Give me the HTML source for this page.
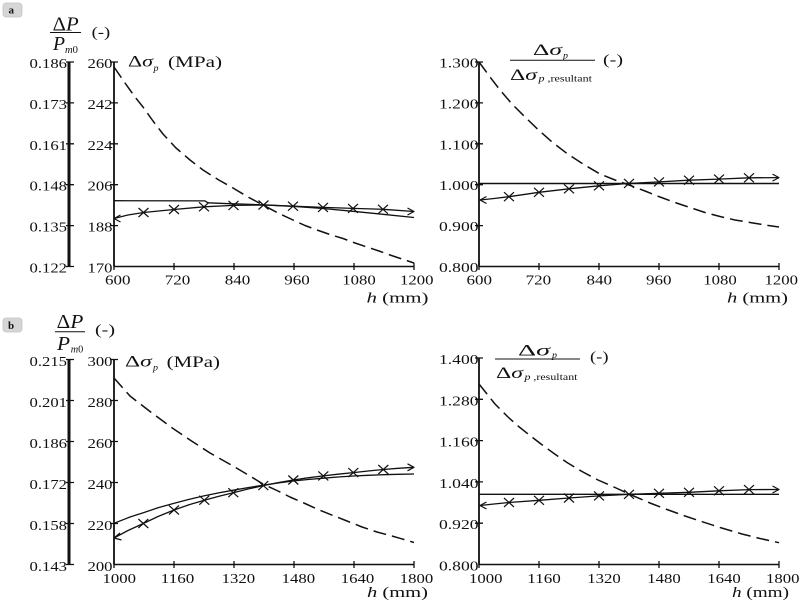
<!DOCTYPE html>
<html><head><meta charset="utf-8"><style>
html,body{margin:0;padding:0;background:#fff;}
svg{display:block;}
text{font-family:"Liberation Serif",serif;fill:#111;}
</style></head><body>
<svg width="800" height="600" viewBox="0 0 800 600" xmlns="http://www.w3.org/2000/svg">
<rect width="800" height="600" fill="#fff"/>

<!-- panel tags -->
<rect x="3" y="3" width="19" height="14" rx="3" fill="#d6d6d6" stroke="#c4c4c4" stroke-width="0.8"/>
<text x="8.5" y="13.5" font-size="11" font-weight="bold">a</text>
<rect x="3" y="318" width="19" height="14" rx="3" fill="#d6d6d6" stroke="#c4c4c4" stroke-width="0.8"/>
<text x="8" y="328.8" font-size="11" font-weight="bold">b</text>

<g stroke="#111" fill="none" stroke-linecap="butt">
<!-- ===== TOP LEFT axes ===== -->
<line x1="69" y1="62" x2="69" y2="266.5" stroke-width="3"/>
<line x1="114" y1="62" x2="114" y2="266.5" stroke-width="1.8"/>
<line x1="114" y1="266.5" x2="414" y2="266.5" stroke-width="1.6"/>
<path stroke-width="1.3" d="M66 62H74M66 102.9H74M66 143.8H74M66 184.7H74M66 225.6H74M66 266.5H74
M110 62H118M110 102.9H118M110 143.8H118M110 184.7H118M110 225.6H118
M114 263V270M174 263V270M234 263V270M294 263V270M354 263V270M414 263V270"/>

<!-- ===== TOP RIGHT axes ===== -->
<line x1="479" y1="62" x2="479" y2="266.5" stroke-width="1.8"/>
<line x1="479" y1="266.5" x2="779" y2="266.5" stroke-width="1.6"/>
<path stroke-width="1.3" d="M475 62H483M475 102.9H483M475 143.8H483M475 184.7H483M475 225.6H483
M479 263V270M539 263V270M599 263V270M659 263V270M719 263V270M779 263V270"/>

<!-- ===== BOTTOM LEFT axes ===== -->
<line x1="69" y1="359.5" x2="69" y2="564.5" stroke-width="3"/>
<line x1="114" y1="359.5" x2="114" y2="564.5" stroke-width="1.8"/>
<line x1="114" y1="564.5" x2="414" y2="564.5" stroke-width="1.6"/>
<path stroke-width="1.3" d="M66 359.5H74M66 400.5H74M66 441.5H74M66 482.5H74M66 523.5H74M66 564.5H74
M110 359.5H118M110 400.5H118M110 441.5H118M110 482.5H118M110 523.5H118
M114 561V568M174 561V568M234 561V568M294 561V568M354 561V568M414 561V568"/>

<!-- ===== BOTTOM RIGHT axes ===== -->
<line x1="479" y1="358" x2="479" y2="564.5" stroke-width="1.8"/>
<line x1="479" y1="564.5" x2="779" y2="564.5" stroke-width="1.6"/>
<path stroke-width="1.3" d="M475 358H483M475 399.3H483M475 440.6H483M475 481.9H483M475 523.2H483
M479 561V568M539 561V568M599 561V568M659 561V568M719 561V568M779 561V568"/>
</g>

<!-- ===== CURVES ===== -->
<g stroke="#111" fill="none" stroke-linejoin="round">
<!-- TL -->
<polyline stroke-width="1.5" stroke-dasharray="13 6" points="114,67 125,83 135,97 143,107 153,121 163,134 176,148 190,160 203,170 218,179.5 233,188 248,197 263,205 278,213 293,220 305,225.5 317,230 330,234.5 343,238.5 355,243 367,247 379,251 390,255 402,259 414,263"/>
<polyline stroke-width="1.3" points="114,200.7 205,200.9 208,202.8 233,203.8 263,204.8 293,206.3 323,208.5 353,211.3 383,214.3 414,217.5"/>
<polyline stroke-width="1.3" points="114,218.5 128,215 143.5,212.5 174,209.5 204,206.8 233.5,205.4 263.5,205 293,206.2 323,207.4 353,208.4 383,209.3 414,211.5"/>
<path stroke-width="1.2" d="M120.5,215 L114,218.5 L120.5,222 M407.5,208 L414,211.5 L407.5,215"/>
<path stroke-width="1.2" d="M138.5,208 l10,9 m-10,0 l10,-9 M169,205 l10,9 m-10,0 l10,-9 M199,202.3 l10,9 m-10,0 l10,-9 M228.5,200.9 l10,9 m-10,0 l10,-9 M258.5,200.5 l10,9 m-10,0 l10,-9 M288,201.7 l10,9 m-10,0 l10,-9 M318,202.9 l10,9 m-10,0 l10,-9 M348,203.9 l10,9 m-10,0 l10,-9 M378,204.8 l10,9 m-10,0 l10,-9"/>

<!-- TR -->
<polyline stroke-width="1.5" stroke-dasharray="13 6" points="479,62 490,77 500,90 512,104 525,117 538,129.5 552,142 567,153.5 583,164 600,174 615,180 629,185 645,191 660,197 675,202.5 690,207.5 705,212.5 720,216.5 735,220 750,222.5 765,225 779,227"/>
<line stroke-width="1.4" x1="479" y1="183.5" x2="779" y2="183.5"/>
<polyline stroke-width="1.3" points="480,200 494,198.5 509,196.7 539,192.3 569,188.8 599,185.8 629,183.4 659,181.9 689,180.2 719,179.1 749,177.8 779,177.6"/>
<path stroke-width="1.2" d="M486.5,196.5 L480,200 L486.5,203.5 M772.5,174.1 L779,177.6 L772.5,181.1"/>
<path stroke-width="1.2" d="M504,192.2 l10,9 m-10,0 l10,-9 M534,187.8 l10,9 m-10,0 l10,-9 M564,184.3 l10,9 m-10,0 l10,-9 M594,181.3 l10,9 m-10,0 l10,-9 M624,178.9 l10,9 m-10,0 l10,-9 M654,177.4 l10,9 m-10,0 l10,-9 M684,175.7 l10,9 m-10,0 l10,-9 M714,174.6 l10,9 m-10,0 l10,-9 M744,173.3 l10,9 m-10,0 l10,-9"/>

<!-- BL -->
<polyline stroke-width="1.5" stroke-dasharray="13 6" points="114,378 130,396 150,411.5 173,428.5 190,440 210,453 233,466 250,476 263,484 278,491 290,497 305,503.5 317,509 333,515.5 347,521 362,527 377,532 390,535.5 400,538.3 414,542.5"/>
<polyline stroke-width="1.3" points="114,523.3 130,517 143.3,512.7 158,507.8 173.3,503.5 188,499.6 203.3,496 218,493 233.3,490.2 248,487.6 263.3,485.2 278,483 293.3,481 308,479.5 323.3,478.2 338,477 353.3,476 368,475.3 383.3,474.7 398,474.3 414,474"/>
<polyline stroke-width="1.3" points="114,538 128,530.5 143.3,523.5 158,516.5 174,510 189,504.8 204.3,500.2 219,496.2 233.3,492.7 248,489 263.3,485.6 278,482.6 293.3,480 308,477.8 323.3,475.9 338,474.2 353.3,472.6 368,471 383.3,469.5 398,468.3 414,467.3"/>
<path stroke-width="1.2" d="M120,533 L114,538 L121.5,540 M407.5,463.8 L414,467.3 L407.5,470.8"/>
<path stroke-width="1.2" d="M138.3,519 l10,9 m-10,0 l10,-9 M169,505.5 l10,9 m-10,0 l10,-9 M199.3,495.7 l10,9 m-10,0 l10,-9 M228.3,488.2 l10,9 m-10,0 l10,-9 M258.3,481.1 l10,9 m-10,0 l10,-9 M288.3,475.5 l10,9 m-10,0 l10,-9 M318.3,471.4 l10,9 m-10,0 l10,-9 M348.3,468.1 l10,9 m-10,0 l10,-9 M378.3,465 l10,9 m-10,0 l10,-9"/>

<!-- BR -->
<polyline stroke-width="1.5" stroke-dasharray="13 6" points="479,384 495,404 508,417 518,426 530,435.5 541,444 554,453.5 567,462.5 582,471.5 598,480 615,487.5 629,494 650,503 667,509.5 685,516 700,521 720,527.5 742,534 760,538.5 779,542.7"/>
<line stroke-width="1.4" x1="479" y1="494.3" x2="779" y2="494.3"/>
<polyline stroke-width="1.3" points="480,505.5 494,504 509,502.5 539,500.3 569,498 599,495.9 629,494.3 659,493.3 689,492.3 719,490.8 749,489.6 779,489.5"/>
<path stroke-width="1.2" d="M486.5,502 L480,505.5 L486.5,509 M772.5,486 L779,489.5 L772.5,493"/>
<path stroke-width="1.2" d="M504,498 l10,9 m-10,0 l10,-9 M534,495.8 l10,9 m-10,0 l10,-9 M564,493.5 l10,9 m-10,0 l10,-9 M594,491.4 l10,9 m-10,0 l10,-9 M624,489.8 l10,9 m-10,0 l10,-9 M654,488.8 l10,9 m-10,0 l10,-9 M684,487.8 l10,9 m-10,0 l10,-9 M714,486.3 l10,9 m-10,0 l10,-9 M744,485.1 l10,9 m-10,0 l10,-9"/>
</g>

<!-- ===== TICK LABELS ===== -->
<g font-size="14" lengthAdjust="spacingAndGlyphs">
<!-- TL secondary -->
<text x="29.5" y="68" textLength="37.5" lengthAdjust="spacingAndGlyphs">0.186</text>
<text x="29.5" y="108.9" textLength="37.5" lengthAdjust="spacingAndGlyphs">0.173</text>
<text x="29.5" y="149.8" textLength="37.5" lengthAdjust="spacingAndGlyphs">0.161</text>
<text x="29.5" y="190.7" textLength="37.5" lengthAdjust="spacingAndGlyphs">0.148</text>
<text x="29.5" y="231.6" textLength="37.5" lengthAdjust="spacingAndGlyphs">0.135</text>
<text x="29.5" y="272.5" textLength="37.5" lengthAdjust="spacingAndGlyphs">0.122</text>
<!-- TL primary -->
<text x="87.5" y="68" textLength="25" lengthAdjust="spacingAndGlyphs">260</text>
<text x="87.5" y="108.9" textLength="25" lengthAdjust="spacingAndGlyphs">242</text>
<text x="87.5" y="149.8" textLength="25" lengthAdjust="spacingAndGlyphs">224</text>
<text x="87.5" y="190.7" textLength="25" lengthAdjust="spacingAndGlyphs">206</text>
<text x="87.5" y="231.6" textLength="25" lengthAdjust="spacingAndGlyphs">188</text>
<text x="87.5" y="272.5" textLength="25" lengthAdjust="spacingAndGlyphs">170</text>
<!-- TL x -->
<text x="105" y="284.5" textLength="25.5" lengthAdjust="spacingAndGlyphs">600</text>
<text x="164.8" y="284.5" textLength="25.5" lengthAdjust="spacingAndGlyphs">720</text>
<text x="224.8" y="284.5" textLength="25.5" lengthAdjust="spacingAndGlyphs">840</text>
<text x="284.3" y="284.5" textLength="25.5" lengthAdjust="spacingAndGlyphs">960</text>
<text x="342.3" y="284.5" textLength="33.5" lengthAdjust="spacingAndGlyphs">1080</text>
<text x="400" y="284.5" textLength="33.5" lengthAdjust="spacingAndGlyphs">1200</text>

<!-- TR y -->
<text x="439" y="67.5" textLength="39.5" lengthAdjust="spacingAndGlyphs">1.300</text>
<text x="439" y="108.4" textLength="39.5" lengthAdjust="spacingAndGlyphs">1.200</text>
<text x="439" y="149.3" textLength="39.5" lengthAdjust="spacingAndGlyphs">1.100</text>
<text x="439" y="190.2" textLength="39.5" lengthAdjust="spacingAndGlyphs">1.000</text>
<text x="439" y="231.1" textLength="39.5" lengthAdjust="spacingAndGlyphs">0.900</text>
<text x="439" y="272" textLength="39.5" lengthAdjust="spacingAndGlyphs">0.800</text>
<!-- TR x -->
<text x="466.5" y="284.5" textLength="25.5" lengthAdjust="spacingAndGlyphs">600</text>
<text x="525.6" y="284.5" textLength="25.5" lengthAdjust="spacingAndGlyphs">720</text>
<text x="586.5" y="284.5" textLength="25.5" lengthAdjust="spacingAndGlyphs">840</text>
<text x="646" y="284.5" textLength="25.5" lengthAdjust="spacingAndGlyphs">960</text>
<text x="703.3" y="284.5" textLength="33.5" lengthAdjust="spacingAndGlyphs">1080</text>
<text x="764.5" y="284.5" textLength="33.5" lengthAdjust="spacingAndGlyphs">1200</text>

<!-- BL secondary -->
<text x="29.5" y="366" textLength="37.5" lengthAdjust="spacingAndGlyphs">0.215</text>
<text x="29.5" y="407" textLength="37.5" lengthAdjust="spacingAndGlyphs">0.201</text>
<text x="29.5" y="448" textLength="37.5" lengthAdjust="spacingAndGlyphs">0.186</text>
<text x="29.5" y="489" textLength="37.5" lengthAdjust="spacingAndGlyphs">0.172</text>
<text x="29.5" y="530" textLength="37.5" lengthAdjust="spacingAndGlyphs">0.158</text>
<text x="29.5" y="571" textLength="37.5" lengthAdjust="spacingAndGlyphs">0.143</text>
<!-- BL primary -->
<text x="87.5" y="366" textLength="25" lengthAdjust="spacingAndGlyphs">300</text>
<text x="87.5" y="407" textLength="25" lengthAdjust="spacingAndGlyphs">280</text>
<text x="87.5" y="448" textLength="25" lengthAdjust="spacingAndGlyphs">260</text>
<text x="87.5" y="489" textLength="25" lengthAdjust="spacingAndGlyphs">240</text>
<text x="87.5" y="530" textLength="25" lengthAdjust="spacingAndGlyphs">220</text>
<text x="87.5" y="571" textLength="25" lengthAdjust="spacingAndGlyphs">200</text>
<!-- BL x -->
<text x="102.5" y="583" textLength="33.5" lengthAdjust="spacingAndGlyphs">1000</text>
<text x="160.8" y="583" textLength="33.5" lengthAdjust="spacingAndGlyphs">1160</text>
<text x="221.6" y="583" textLength="33.5" lengthAdjust="spacingAndGlyphs">1320</text>
<text x="281.6" y="583" textLength="33.5" lengthAdjust="spacingAndGlyphs">1480</text>
<text x="340.8" y="583" textLength="33.5" lengthAdjust="spacingAndGlyphs">1640</text>
<text x="399.8" y="583" textLength="33.5" lengthAdjust="spacingAndGlyphs">1800</text>

<!-- BR y -->
<text x="439" y="364" textLength="39.5" lengthAdjust="spacingAndGlyphs">1.400</text>
<text x="439" y="405.3" textLength="39.5" lengthAdjust="spacingAndGlyphs">1.280</text>
<text x="439" y="446.6" textLength="39.5" lengthAdjust="spacingAndGlyphs">1.160</text>
<text x="439" y="487.9" textLength="39.5" lengthAdjust="spacingAndGlyphs">1.040</text>
<text x="439" y="529.2" textLength="39.5" lengthAdjust="spacingAndGlyphs">0.920</text>
<text x="439" y="570.5" textLength="39.5" lengthAdjust="spacingAndGlyphs">0.800</text>
<!-- BR x -->
<text x="469" y="583" textLength="33.5" lengthAdjust="spacingAndGlyphs">1000</text>
<text x="527.3" y="583" textLength="33.5" lengthAdjust="spacingAndGlyphs">1160</text>
<text x="587.3" y="583" textLength="33.5" lengthAdjust="spacingAndGlyphs">1320</text>
<text x="647.3" y="583" textLength="33.5" lengthAdjust="spacingAndGlyphs">1480</text>
<text x="707.3" y="583" textLength="33.5" lengthAdjust="spacingAndGlyphs">1640</text>
<text x="766" y="583" textLength="33.5" lengthAdjust="spacingAndGlyphs">1800</text>
</g>

<!-- ===== AXIS TITLES ===== -->
<!-- h (mm) -->
<text x="366.5" y="302.5" font-size="15" textLength="62" lengthAdjust="spacingAndGlyphs"><tspan font-style="italic">h</tspan> (mm)</text>
<text x="727" y="302.5" font-size="15" textLength="61" lengthAdjust="spacingAndGlyphs"><tspan font-style="italic">h</tspan> (mm)</text>
<text x="367" y="597" font-size="15" textLength="61" lengthAdjust="spacingAndGlyphs"><tspan font-style="italic">h</tspan> (mm)</text>
<text x="732" y="597" font-size="15" textLength="57" lengthAdjust="spacingAndGlyphs"><tspan font-style="italic">h</tspan> (mm)</text>

<!-- TL: ΔP / Pm0 (-) -->
<text x="52.7" y="30.5" font-size="20" textLength="26" lengthAdjust="spacingAndGlyphs">Δ<tspan font-style="italic">P</tspan></text>
<line x1="50" y1="32.5" x2="81" y2="32.5" stroke="#111" stroke-width="1"/>
<text x="53" y="50" font-size="20" font-style="italic" textLength="12" lengthAdjust="spacingAndGlyphs">P</text>
<text x="65" y="53" font-size="11" textLength="13" lengthAdjust="spacingAndGlyphs"><tspan font-style="italic">m</tspan>0</text>
<text x="91.7" y="37" font-size="15" textLength="18.5" lengthAdjust="spacingAndGlyphs">(-)</text>
<!-- TL: Δσp (MPa) -->
<text x="128" y="66.5" font-size="16" textLength="25" lengthAdjust="spacingAndGlyphs">Δ<tspan font-style="italic">σ</tspan></text>
<text x="153.5" y="71" font-size="9" font-style="italic" textLength="5" lengthAdjust="spacingAndGlyphs">p</text>
<text x="168" y="67" font-size="16" textLength="54" lengthAdjust="spacingAndGlyphs">(MPa)</text>

<!-- TR fraction -->
<text x="533" y="55" font-size="16" textLength="29" lengthAdjust="spacingAndGlyphs">Δ<tspan font-style="italic">σ</tspan></text>
<text x="563" y="58.5" font-size="9" font-style="italic" textLength="5" lengthAdjust="spacingAndGlyphs">p</text>
<line x1="510" y1="60.3" x2="595" y2="60.3" stroke="#111" stroke-width="1"/>
<text x="510" y="80" font-size="16" textLength="27" lengthAdjust="spacingAndGlyphs">Δ<tspan font-style="italic">σ</tspan></text>
<text x="538.5" y="81.5" font-size="9" textLength="53.5" lengthAdjust="spacingAndGlyphs"><tspan font-style="italic">p</tspan> ,resultant</text>
<text x="603" y="64.5" font-size="15" textLength="20" lengthAdjust="spacingAndGlyphs">(-)</text>

<!-- BL: ΔP / Pm0 (-) -->
<text x="56.7" y="328" font-size="20" textLength="26.6" lengthAdjust="spacingAndGlyphs">Δ<tspan font-style="italic">P</tspan></text>
<line x1="55" y1="331.7" x2="85" y2="331.7" stroke="#111" stroke-width="1"/>
<text x="57" y="350" font-size="20" font-style="italic" textLength="13" lengthAdjust="spacingAndGlyphs">P</text>
<text x="70.7" y="352.5" font-size="11" textLength="12.6" lengthAdjust="spacingAndGlyphs"><tspan font-style="italic">m</tspan>0</text>
<text x="95" y="334.5" font-size="15" textLength="20" lengthAdjust="spacingAndGlyphs">(-)</text>
<!-- BL: Δσp (MPa) -->
<text x="125" y="366.5" font-size="16" textLength="26.7" lengthAdjust="spacingAndGlyphs">Δ<tspan font-style="italic">σ</tspan></text>
<text x="153" y="370.5" font-size="9" font-style="italic" textLength="5" lengthAdjust="spacingAndGlyphs">p</text>
<text x="166.7" y="367" font-size="16" textLength="53.3" lengthAdjust="spacingAndGlyphs">(MPa)</text>

<!-- BR fraction -->
<text x="518" y="355.5" font-size="16" textLength="32" lengthAdjust="spacingAndGlyphs">Δ<tspan font-style="italic">σ</tspan></text>
<text x="552" y="358" font-size="9" font-style="italic" textLength="5" lengthAdjust="spacingAndGlyphs">p</text>
<line x1="495" y1="359" x2="580" y2="359" stroke="#111" stroke-width="1"/>
<text x="496" y="378" font-size="16" textLength="27" lengthAdjust="spacingAndGlyphs">Δ<tspan font-style="italic">σ</tspan></text>
<text x="524.5" y="380" font-size="9" textLength="53" lengthAdjust="spacingAndGlyphs"><tspan font-style="italic">p</tspan> ,resultant</text>
<text x="590" y="361.5" font-size="15" textLength="18.5" lengthAdjust="spacingAndGlyphs">(-)</text>
</svg>
</body></html>
